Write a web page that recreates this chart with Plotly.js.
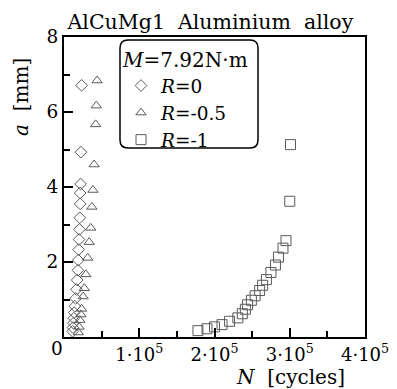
<!DOCTYPE html>
<html>
<head>
<meta charset="utf-8">
<script src="https://cdn.plot.ly/plotly-3.0.1.min.js"></script>
<style>html,body{margin:0;padding:0;background:#fff;}</style>
</head>
<body>
<div id="chart" style="width:397px;height:389px;"></div>
<script>
// R = 0 (diamonds)
const r0N = [23400, 22500, 22000, 21500, 21500, 21000, 20500, 20000, 19500, 19000, 18500, 17500, 16500, 15500, 14500, 13500, 13000, 12500, 12000, 11500];
const r0A = [6.71, 4.93, 4.08, 3.84, 3.55, 3.18, 2.87, 2.60, 2.33, 2.05, 1.78, 1.52, 1.27, 1.03, 0.82, 0.65, 0.50, 0.37, 0.25, 0.15];
// R = -0.5 (triangles)
const r05N = [44000, 43000, 42000, 40000, 38500, 37000, 35500, 33500, 31500, 29000, 27000, 25500, 23500, 22500, 21000, 20000, 19000];
const r05A = [6.84, 6.17, 5.67, 4.60, 3.92, 3.47, 2.91, 2.53, 2.11, 1.67, 1.30, 1.08, 0.75, 0.60, 0.45, 0.27, 0.12];
// R = -1 (squares)
const r1N = [178000, 190000, 200000, 210000, 220000, 231000, 237000, 241000, 244000, 249000, 254000, 260000, 264000, 269000, 275000, 281000, 285000, 291000, 295000, 300000, 301000];
const r1A = [0.17, 0.22, 0.27, 0.33, 0.42, 0.51, 0.62, 0.74, 0.86, 0.98, 1.10, 1.24, 1.38, 1.53, 1.72, 1.92, 2.13, 2.37, 2.57, 3.62, 5.13];

const xTickVals = [100000, 200000, 300000, 400000];
const xTickText = ['1·10<sup>5</sup>', '2·10<sup>5</sup>', '3·10<sup>5</sup>', '4·10<sup>5</sup>'];
const yTickVals = [2, 4, 6, 8];
const yTickText = ['2', '4', '6', '8'];

const serif = '"DejaVu Serif", serif';
const mcol = '#5a5a5a';

const traces = [
  {x: r0N, y: r0A, name: '<i>R</i>=0', mode: 'markers', type: 'scatter',
   marker: {symbol: 'diamond-open', size: 9, color: mcol, line: {width: 1, color: mcol}}},
  {x: r05N, y: r05A, name: '<i>R</i>=-0.5', mode: 'markers', type: 'scatter',
   marker: {symbol: 'triangle-up-open', size: 9, color: mcol, line: {width: 1, color: mcol}}},
  {x: r1N, y: r1A, name: '<i>R</i>=-1', mode: 'markers', type: 'scatter',
   marker: {symbol: 'square-open', size: 10, color: mcol, line: {width: 1, color: mcol}}}
];

// rounded legend box (paper coords)
const pw = 301, ph = 300;
function px2x(p){ return (p - 64) / pw; }
function py2y(p){ return (337 - p) / ph; }
const bx0 = px2x(120), bx1 = px2x(258), by0 = py2y(148), by1 = py2y(40);
const rx = 8 / pw, ry = 8 / ph;
const boxPath = `M ${bx0+rx},${by1} L ${bx1-rx},${by1} Q ${bx1},${by1} ${bx1},${by1-ry} ` +
  `L ${bx1},${by0+ry} Q ${bx1},${by0} ${bx1-rx},${by0} L ${bx0+rx},${by0} ` +
  `Q ${bx0},${by0} ${bx0},${by0+ry} L ${bx0},${by1-ry} Q ${bx0},${by1} ${bx0+rx},${by1} Z`;

const layout = {
  width: 397, height: 389,
  margin: {l: 64, r: 32, t: 37, b: 52},
  paper_bgcolor: '#fff', plot_bgcolor: '#fff',
  font: {family: serif, size: 18, color: '#000'},
  showlegend: true,
  title: {text: 'AlCuMg1\u00a0\u00a0Aluminium\u00a0\u00a0alloy', font: {family: serif, size: 20.5, color: '#000'},
          x: 0.53, xanchor: 'center', xref: 'container', y: 1 - 22/389, yanchor: 'middle', yref: 'container'},
  xaxis: {range: [0, 400000], showgrid: false, zeroline: false, showline: true, mirror: true,
          linecolor: '#000', linewidth: 2, ticks: 'inside', ticklen: 9, tickwidth: 2, tickcolor: '#000',
          tickvals: xTickVals, ticktext: xTickText, tickfont: {family: serif, size: 18, color: '#000'},
          minor: {tickvals: [50000, 150000, 250000, 350000], ticks: 'inside', ticklen: 6, tickwidth: 2, tickcolor: '#000'}},
  yaxis: {range: [0, 8], showgrid: false, zeroline: false, showline: true, mirror: true,
          linecolor: '#000', linewidth: 2, ticks: 'inside', ticklen: 9, tickwidth: 2, tickcolor: '#000',
          tickvals: yTickVals, ticktext: yTickText, tickfont: {family: serif, size: 18.5, color: '#000'},
          minor: {tickvals: [1, 3, 5, 7], ticks: 'inside', ticklen: 6, tickwidth: 2, tickcolor: '#000'}},
  legend: {x: px2x(121), y: py2y(41), xanchor: 'left', yanchor: 'top', bgcolor: 'rgba(0,0,0,0)',
           borderwidth: 0, font: {family: serif, size: 18.5, color: '#000'}, tracegroupgap: 0,
           title: {text: '<i>M</i>=7.92N·m', font: {family: serif, size: 20, color: '#000'}}},
  shapes: [{type: 'path', xref: 'paper', yref: 'paper', path: boxPath, line: {color: '#000', width: 1.5}, fillcolor: 'rgba(0,0,0,0)', layer: 'above'}],
  annotations: [
    {text: '0', xref: 'paper', yref: 'paper', x: px2x(57), y: py2y(348), showarrow: false, font: {family: serif, size: 18.5, color: '#000'}, xanchor: 'center', yanchor: 'middle'},
    {text: '<i>N</i>\u00a0\u00a0[cycles]', xref: 'paper', yref: 'paper', x: px2x(290), y: py2y(377), showarrow: false, font: {family: serif, size: 20, color: '#000'}, xanchor: 'center', yanchor: 'middle'},
    {text: '<i>a</i>\u00a0\u00a0[mm]', xref: 'paper', yref: 'paper', x: px2x(21), y: py2y(97), showarrow: false, textangle: -90, font: {family: serif, size: 20, color: '#000'}, xanchor: 'center', yanchor: 'middle'}
  ]
};

Plotly.newPlot('chart', traces, layout, {displayModeBar: false, staticPlot: true});
</script>
</body>
</html>
